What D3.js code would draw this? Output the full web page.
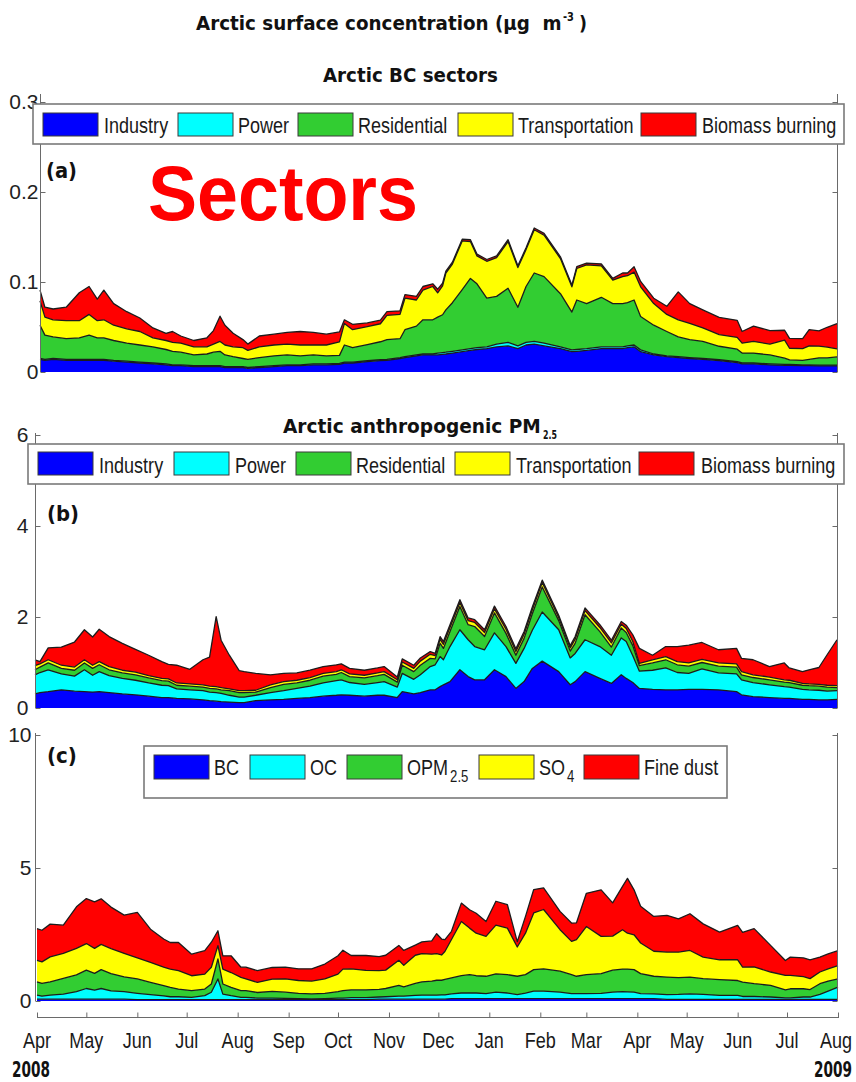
<!DOCTYPE html>
<html>
<head>
<meta charset="utf-8">
<script src="https://cdn.jsdelivr.net/npm/d3@7"></script>
<style>
  body { margin: 0; background: #fff; }
  svg { display: block; }
</style>
</head>
<body>
<svg id="chart" width="856" height="1082"></svg>
<script>
// ---- Data -------------------------------------------------------------
// Sample days, counted from 1 April 2008 (day 487 = 1 August 2009)
const days = [
  0,3,8,16,24,30,35,39,45,53,
  61,69,77,81,86,94,102,106,110,113,
  118,124,127,134,143,151,159,167,175,183,
  186,191,200,208,212,220,223,230,234,240,
  243,246,248,252,258,263,267,273,279,286,
  292,297,302,308,318,325,328,334,343,350,
  356,359,363,367,375,383,390,397,405,415,
  426,429,436,446,455,458,466,470,476,481,
  487
];

const sectorNames = ["Industry", "Power", "Residential", "Transportation", "Biomass burning"];
const speciesNames = ["BC", "OC", "OPM", "SO", "Fine dust"];
const speciesSubs  = ["", "", "2.5", "4", ""];
const monthLabels = ["Apr","May","Jun","Jul","Aug","Sep","Oct","Nov","Dec","Jan","Feb","Mar","Apr","May","Jun","Jul","Aug"];
const yearLabels = ["2008", "2009"];
const ticksA = [0, 0.1, 0.2, 0.3];
const ticksB = [0, 2, 4, 6];
const ticksC = [0, 5, 10];

// (a) Arctic BC by sector, µg m-3
const bcIndustry = [
  .014,.013,.014,.013,.013,.013,.013,.013,.012,.011,
  .010,.009,.008,.007,.007,.006,.006,.006,.006,.005,
  .005,.005,.004,.005,.006,.007,.007,.008,.008,.0085,
  .010,.010,.0115,.0126,.013,.015,.016,.018,.019,.019,
  .019,.0196,.020,.021,.0226,.024,.025,.026,.028,.029,
  .026,.030,.031,.029,.026,.0226,.023,.024,.026,.026,
  .026,.027,.028,.0226,.019,.017,.016,.015,.014,.0126,
  .0104,.009,.009,.008,.0074,.0074,.007,.007,.0067,.0067,
  .0067
];
const bcPower = [
  .001,.001,.001,.001,.001,.001,.001,.001,.001,.001,
  .001,.001,.001,.001,.001,.001,.001,.001,.001,.001,
  .001,.001,.001,.001,.001,.001,.001,.001,.001,.001,
  .001,.001,.001,.001,.001,.001,.001,.001,.001,.001,
  .002,.002,.002,.002,.002,.002,.002,.002,.003,.004,
  .003,.003,.003,.003,.002,.002,.002,.002,.002,.002,
  .002,.002,.002,.002,.001,.001,.001,.001,.001,.001,
  .001,.001,.001,.001,.001,.001,.001,.001,.001,.001,
  .001
];
const bcResidential = [
  .037,.027,.024,.023,.024,.027,.024,.024,.022,.020,
  .019,.018,.016,.015,.014,.012,.013,.015,.016,.013,
  .011,.009,.009,.010,.011,.011,.010,.010,.009,.009,
  .019,.016,.018,.020,.022,.021,.030,.032,.038,.038,
  .040,.042,.047,.054,.067,.078,.071,.054,.053,.060,
  .043,.062,.076,.074,.059,.042,.055,.050,.055,.048,
  .048,.048,.050,.037,.032,.027,.022,.020,.019,.015,
  .014,.011,.011,.010,.007,.005,.005,.006,.008,.008,
  .009
];
const bcTransportation = [
  .027,.020,.019,.020,.019,.023,.019,.020,.017,.016,
  .015,.010,.010,.010,.010,.009,.008,.009,.011,.011,
  .011,.012,.010,.012,.012,.012,.012,.011,.012,.015,
  .024,.020,.020,.020,.027,.027,.035,.029,.033,.037,
  .027,.032,.041,.043,.054,.041,.031,.041,.043,.052,
  .044,.041,.048,.046,.039,.028,.035,.043,.035,.026,
  .030,.030,.031,.033,.024,.019,.019,.018,.015,.013,
  .013,.011,.013,.012,.020,.013,.013,.015,.013,.012,
  .009
];
const bcBiomass = [
  .012,.011,.012,.015,.031,.031,.024,.033,.024,.019,
  .015,.011,.008,.012,.008,.007,.010,.015,.028,.022,
  .015,.009,.007,.012,.012,.013,.015,.014,.012,.011,
  .004,.006,.004,.004,.004,.004,.004,.004,.004,.003,
  .004,.003,.002,.002,.002,.002,.002,.002,.002,.002,
  .002,.002,.002,.002,.002,.002,.002,.002,.002,.002,
  .004,.003,.006,.006,.006,.009,.031,.022,.020,.019,
  .019,.013,.017,.015,.011,.011,.011,.018,.017,.022,
  .028
];

// (b) Arctic anthropogenic PM2.5 by sector, µg m-3
const pmIndustry = [
  .31,.34,.36,.40,.37,.36,.35,.36,.34,.31,
  .29,.26,.23,.23,.21,.20,.18,.16,.15,.14,
  .13,.12,.12,.16,.18,.19,.21,.23,.26,.28,
  .29,.28,.26,.28,.28,.23,.36,.31,.34,.40,
  .40,.47,.51,.58,.84,.69,.62,.62,.84,.69,
  .43,.58,.87,1.03,.80,.51,.58,.80,.65,.54,
  .73,.65,.56,.43,.41,.40,.40,.41,.41,.40,
  .36,.29,.25,.23,.21,.21,.19,.19,.18,.18,
  .19
];
const pmPower = [
  .42,.44,.48,.35,.33,.48,.37,.44,.37,.34,
  .32,.29,.27,.26,.21,.20,.20,.19,.19,.18,
  .15,.12,.12,.12,.16,.19,.22,.25,.29,.32,
  .33,.28,.26,.28,.30,.23,.40,.32,.39,.51,
  .55,.66,.55,.77,.88,.81,.73,.66,.81,.66,
  .55,.73,.84,1.08,.92,.59,.62,.70,.70,.62,
  .81,.81,.59,.38,.42,.48,.38,.35,.45,.37,
  .39,.33,.31,.28,.26,.25,.22,.21,.21,.19,
  .19
];
const pmResidential = [
  .11,.12,.15,.12,.13,.15,.15,.15,.13,.12,
  .12,.11,.10,.10,.08,.08,.08,.08,.08,.08,
  .10,.10,.10,.07,.11,.14,.12,.13,.15,.14,
  .16,.13,.14,.15,.16,.11,.18,.17,.21,.18,
  .13,.29,.25,.33,.51,.33,.44,.29,.44,.29,
  .18,.22,.36,.55,.20,.15,.22,.55,.33,.18,
  .22,.20,.22,.12,.16,.18,.17,.16,.14,.15,
  .15,.11,.11,.11,.10,.10,.09,.09,.09,.09,
  .07
];
const pmTransportation = [
  .09,.07,.07,.07,.07,.07,.07,.07,.07,.06,
  .06,.05,.05,.05,.05,.05,.05,.05,.05,.05,
  .04,.04,.04,.04,.06,.06,.06,.06,.06,.06,
  .06,.06,.06,.06,.06,.05,.07,.07,.09,.09,
  .07,.09,.09,.09,.09,.09,.09,.09,.09,.09,
  .08,.09,.09,.10,.07,.07,.09,.09,.09,.09,
  .08,.09,.09,.05,.07,.07,.07,.07,.07,.07,
  .07,.07,.06,.06,.05,.05,.04,.04,.04,.04,
  .04
];
const pmBiomass = [
  .13,.05,.26,.40,.55,.66,.62,.71,.66,.59,
  .50,.45,.37,.32,.39,.32,.55,.64,1.54,1.04,
  .74,.44,.42,.37,.22,.18,.16,.16,.15,.15,
  .13,.12,.11,.11,.11,.06,.07,.07,.07,.06,
  .05,.06,.06,.06,.06,.06,.06,.06,.06,.06,
  .06,.06,.06,.05,.05,.05,.06,.06,.06,.06,
  .06,.07,.15,.33,.10,.22,.33,.39,.37,.29,
  .34,.29,.33,.23,.37,.27,.26,.31,.37,.67,
  1.01
];

// (c) Arctic PM2.5 by species, µg m-3
const spBC = [
  .07,.07,.07,.07,.07,.07,.07,.07,.07,.07,
  .05,.05,.05,.05,.05,.05,.05,.05,.05,.05,
  .05,.05,.05,.05,.05,.05,.05,.05,.05,.05,
  .05,.05,.05,.07,.07,.07,.07,.07,.07,.07,
  .07,.07,.07,.09,.09,.09,.09,.09,.09,.09,
  .09,.09,.09,.09,.09,.09,.09,.09,.09,.09,
  .09,.09,.09,.09,.09,.06,.06,.06,.06,.06,
  .06,.06,.06,.06,.06,.06,.06,.06,.06,.06,
  .06
];
const spOC = [
  .15,.11,.15,.19,.28,.40,.34,.40,.31,.28,
  .24,.19,.14,.11,.11,.09,.15,.28,.78,.21,
  .15,.09,.09,.06,.06,.05,.04,.03,.04,.06,
  .06,.08,.08,.08,.09,.11,.11,.14,.15,.15,
  .15,.16,.16,.18,.21,.21,.21,.19,.24,.21,
  .15,.21,.28,.28,.24,.19,.19,.19,.20,.24,
  .26,.25,.24,.19,.18,.18,.19,.21,.19,.15,
  .15,.11,.11,.09,.06,.06,.09,.09,.19,.31,
  .46
];
const spOPM = [
  .50,.48,.50,.59,.63,.69,.63,.71,.65,.56,
  .54,.46,.39,.35,.29,.25,.25,.31,.75,.38,
  .31,.25,.25,.21,.25,.23,.20,.19,.20,.24,
  .28,.29,.29,.29,.31,.41,.35,.45,.50,.53,
  .56,.55,.58,.60,.65,.69,.65,.65,.69,.69,
  .69,.69,.81,.84,.79,.71,.65,.71,.74,.83,
  .85,.86,.85,.75,.66,.66,.63,.63,.59,.59,
  .56,.54,.48,.44,.30,.34,.31,.28,.40,.38,
  .31
];
const spSO4 = [
  .81,.81,.94,.94,1.0,1.0,.94,.95,.94,.88,
  .79,.75,.69,.69,.69,.56,.56,.63,.50,.56,
  .56,.50,.44,.38,.46,.50,.48,.48,.54,.66,
  .81,.79,.73,.70,.69,.94,.81,1.06,1.06,1.01,
  1.0,.95,1.05,1.44,2.04,1.75,1.6,1.5,1.83,1.75,
  1.1,1.56,2.13,2.23,1.56,1.25,1.38,1.81,1.4,1.28,
  1.48,1.35,1.31,1.15,.94,.94,.96,1.0,.81,.75,
  .78,.56,.63,.5,.54,.5,.46,.41,.44,.46,
  .5
];
const spDust = [
  1.19,1.19,1.23,1.06,1.56,1.69,1.75,1.71,1.56,1.44,
  1.71,1.25,1.06,1.0,1.06,.81,.88,.94,.56,.50,
  .63,.38,.44,.44,.44,.44,.44,.46,.56,.69,
  .71,.50,.56,.53,.56,.56,.56,.38,.44,.50,
  .75,.60,.45,.31,.69,.69,.75,.56,.90,.88,
  .20,.63,.88,.81,.69,.69,.63,1.25,1.75,1.25,
  1.63,2.06,1.69,1.38,1.31,1.38,1.25,1.38,1.25,1.04,
  1.29,1.31,1.44,1.0,.56,.69,.70,.71,.56,.56,
  .56
];

// ---- Drawing -----------------------------------------------------------
const svg = d3.select("#chart");
const colors = ["#0000ff", "#00ffff", "#32cd32", "#ffff00", "#ff0000"];
const t0 = new Date(Date.UTC(2008, 3, 1));
const t1 = new Date(Date.UTC(2009, 7, 1));
const dayDate = d => d3.utcDay.offset(t0, d);
const SANS = "'Liberation Sans', Arial, sans-serif";
const BOLD = "'DejaVu Sans', 'Liberation Sans', sans-serif";
const AXIS = "#6a6a6a";

// Text placed at (x, y) and narrowed horizontally, either by a factor k
// or to an exact target width w.
function label(parent, str, x, y, o) {
  const g = parent.append("g");
  const t = g.append("text").attr("x", 0).attr("y", 0)
    .attr("font-family", o.family || SANS)
    .attr("font-weight", o.bold ? "bold" : "normal")
    .attr("font-size", o.size)
    .attr("fill", o.fill || "#1a1a1a")
    .attr("text-anchor", o.anchor || "start")
    .text(str);
  const natural = t.node().getComputedTextLength();
  const k = o.w ? o.w / natural : (o.k || 1);
  g.attr("transform", `translate(${x},${y}) scale(${k},1)`);
  return natural * k;
}

function drawPanel(cfg) {
  const x = d3.scaleUtc().domain([t0, t1]).range([cfg.x0, cfg.x1]);
  const y = d3.scaleLinear().domain([0, cfg.ymax]).range([cfg.yBase, cfg.yTop]);
  const rows = days.map((d, i) => {
    const r = { date: dayDate(d) };
    cfg.keys.forEach((k, j) => { r[k] = cfg.series[j][i]; });
    return r;
  });
  const stacked = d3.stack().keys(cfg.keys)(rows);
  const g = svg.append("g");

  const area = d3.area().x(d => x(d.data.date)).y0(d => y(d[0])).y1(d => y(d[1]));
  g.selectAll("path.layer").data(stacked).join("path")
    .attr("class", "layer")
    .attr("fill", (d, i) => colors[i])
    .attr("d", area);

  const edge = d3.line().x(d => x(d.data.date)).y(d => y(d[1]));
  g.selectAll("path.edge").data(stacked).join("path")
    .attr("class", "edge")
    .attr("fill", "none")
    .attr("stroke", "#1c1c1c")
    .attr("stroke-width", 1.3)
    .attr("stroke-linejoin", "round")
    .attr("d", edge);

  // left axis: ticks point inward
  const left = svg.append("g").attr("transform", `translate(${cfg.axL},0)`)
    .call(d3.axisLeft(y).tickValues(cfg.ticks).tickSize(-5).tickPadding(cfg.pad)
      .tickFormat(d3.format(cfg.fmt)));
  left.select(".domain").remove();
  left.selectAll(".tick line").attr("stroke", AXIS);
  left.selectAll(".tick text").attr("font-family", SANS).attr("font-size", 21)
    .attr("fill", "#222");
  left.append("line").attr("x1", 0).attr("x2", 0)
    .attr("y1", cfg.axTop).attr("y2", cfg.yBase).attr("stroke", AXIS);

  const right = svg.append("g").attr("transform", `translate(${cfg.axR},0)`)
    .call(d3.axisRight(y).tickValues(cfg.ticks).tickSize(-5).tickFormat(""));
  right.select(".domain").remove();
  right.selectAll(".tick line").attr("stroke", AXIS);
  right.append("line").attr("x1", 0).attr("x2", 0)
    .attr("y1", cfg.axTop).attr("y2", cfg.yBase).attr("stroke", AXIS);
  return x;
}

function drawLegend(cfg) {
  const g = svg.append("g");
  g.append("rect").attr("x", cfg.box[0]).attr("y", cfg.box[1])
    .attr("width", cfg.box[2] - cfg.box[0]).attr("height", cfg.box[3] - cfg.box[1])
    .attr("fill", "#fff").attr("stroke", "#7a7a7a").attr("stroke-width", 1.6);
  cfg.names.forEach((name, i) => {
    g.append("rect").attr("x", cfg.sw[i]).attr("y", cfg.swY)
      .attr("width", 55).attr("height", cfg.swH)
      .attr("fill", colors[i]).attr("stroke", "#3a3a3a").attr("stroke-width", 1);
    const w = label(g, name, cfg.tx[i], cfg.base, { size: 22, k: 0.82 });
    const sub = cfg.subs ? cfg.subs[i] : "";
    if (sub) label(g, sub, cfg.tx[i] + w + 2, cfg.base + 7, { size: 16, k: 0.82 });
  });
}

// Figure titles
label(svg, "Arctic surface concentration (\u03bcg\u00a0\u00a0m", 196, 30,
  { family: BOLD, bold: true, size: 20, w: 366, fill: "#111" });
label(svg, "-3", 563, 21, { family: BOLD, bold: true, size: 13, w: 11, fill: "#111" });
label(svg, ")", 579, 30, { family: BOLD, bold: true, size: 20, w: 8, fill: "#111" });

label(svg, "Arctic BC sectors", 323, 82,
  { family: BOLD, bold: true, size: 20, w: 175, fill: "#111" });

label(svg, "Arctic anthropogenic PM", 283, 433,
  { family: BOLD, bold: true, size: 20, w: 258, fill: "#111" });
label(svg, "2.5", 543, 439, { family: BOLD, bold: true, size: 13, w: 14, fill: "#111" });

// Panel (a)
drawPanel({
  keys: sectorNames, series: [bcIndustry, bcPower, bcResidential, bcTransportation, bcBiomass],
  x0: 40, x1: 837, ymax: 0.3, yBase: 372, yTop: 102, axTop: 94,
  axL: 40.5, axR: 837.5, ticks: ticksA, pad: 2, fmt: "~g"
});
// Panel (b)
drawPanel({
  keys: sectorNames, series: [pmIndustry, pmPower, pmResidential, pmTransportation, pmBiomass],
  x0: 35, x1: 837, ymax: 6, yBase: 708, yTop: 435, axTop: 433,
  axL: 35.5, axR: 837.5, ticks: ticksB, pad: 7, fmt: "~g"
});
// Panel (c)
const xC = drawPanel({
  keys: speciesNames, series: [spBC, spOC, spOPM, spSO4, spDust],
  x0: 37, x1: 838, ymax: 10, yBase: 1001, yTop: 735, axTop: 733,
  axL: 35.5, axR: 837.5, ticks: ticksC, pad: 4, fmt: "~g"
});

// Legends
drawLegend({ names: sectorNames, box: [33, 104, 844, 144], sw: [43, 178, 298, 458, 641],
  tx: [104, 238, 358, 518, 702], swY: 113, swH: 23, base: 133 });
drawLegend({ names: sectorNames, box: [28, 444, 844, 484], sw: [38, 174, 296, 455, 639],
  tx: [99, 235, 356, 516, 701], swY: 452, swH: 23, base: 473 });
drawLegend({ names: speciesNames, subs: speciesSubs, box: [144, 746, 727, 798],
  sw: [154, 250, 347, 479, 584], tx: [214, 310, 407, 539, 644], swY: 755, swH: 24, base: 775 });

// Panel letters and the sector tag
[["(a)", 46, 178, 31], ["(b)", 47, 521, 32], ["(c)", 47, 763, 30]].forEach(([s, px, py, w]) => {
  label(svg, s, px, py, { family: BOLD, bold: true, size: 21, w: w, fill: "#111" });
});
label(svg, "Sectors", 148, 220, { bold: true, size: 77, w: 270, fill: "#ff0000" });

// Time axis under panel (c)
const months = d3.utcMonth.range(t0, d3.utcDay.offset(t1, 1));
const xAxis = svg.append("g").attr("transform", "translate(0,1017.5)")
  .call(d3.axisBottom(xC).tickValues(months).tickSize(-5).tickFormat(""));
xAxis.select(".domain").attr("stroke", AXIS).attr("d", `M${xC(t0)},0H${xC(t1) + 1}`);
xAxis.selectAll(".tick line").attr("stroke", AXIS);
months.forEach((m, i) => {
  label(svg, monthLabels[i], Math.min(xC(m), 836), 1048, { size: 22, k: 0.82, anchor: "middle" });
});

label(svg, yearLabels[0], 12, 1077, { family: BOLD, bold: true, size: 21, w: 38, fill: "#111" });
label(svg, yearLabels[1], 814, 1077, { family: BOLD, bold: true, size: 21, w: 38, fill: "#111" });
</script>
</body>
</html>
